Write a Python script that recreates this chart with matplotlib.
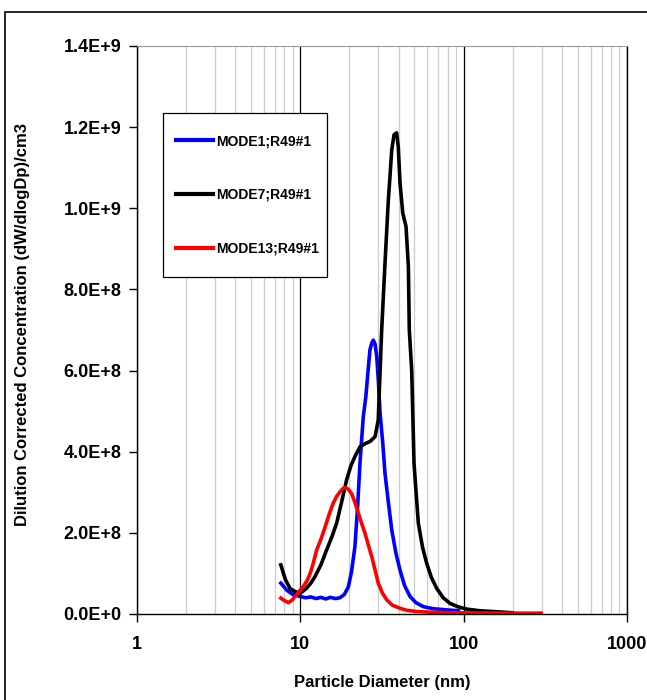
import matplotlib.pyplot as plt
from matplotlib.patches import Rectangle
from matplotlib.ticker import FixedLocator, LogLocator, NullFormatter

plt.rcParams['font.family'] = ['Liberation Sans Narrow', 'Liberation Sans', 'DejaVu Sans']
plt.rcParams['font.weight'] = 'bold'

# Particle diameter (nm) and concentration (x1e9)
mode1_d = [7.6, 8.3, 9.0, 10.0, 10.8, 11.6, 12.5, 13.4, 14.3, 15.3, 16.4, 17.5, 18.6,
           19.7, 20.6, 21.6, 22.4, 23.2, 24.3, 25.2, 26.0, 26.7, 27.4, 28.0, 28.7,
           29.4, 30.1, 30.8, 32.0, 33.0, 34.5, 36.3, 38.5, 40.8, 43.5, 47.0, 51.0,
           56.7, 65.0, 78.8, 93.0]
mode1_v = [0.076, 0.058, 0.048, 0.043, 0.040, 0.042, 0.038, 0.041, 0.037, 0.041, 0.038,
           0.040, 0.048, 0.067, 0.105, 0.166, 0.260, 0.372, 0.486, 0.536, 0.600, 0.651,
           0.668, 0.675, 0.665, 0.634, 0.570, 0.495, 0.420, 0.347, 0.280, 0.207, 0.150,
           0.108, 0.070, 0.043, 0.028, 0.018, 0.013, 0.010, 0.008]

mode7_d = [7.6, 8.1, 8.65, 9.3, 10.0, 10.9, 11.6, 12.3, 13.4, 14.5, 15.6, 16.7, 18.0,
           19.2, 20.4, 21.6, 23.2, 25.0, 26.7, 28.7, 30.0, 31.5, 33.0, 34.6, 35.4,
           36.3, 37.5, 38.9, 39.8, 40.8, 42.4, 44.4, 45.9, 46.5, 48.1, 49.7, 52.8,
           56.0, 59.4, 63.5, 68.4, 75.0, 82.6, 92.0, 104.5, 125.0, 152.0, 198.0]
mode7_v = [0.121, 0.085, 0.063, 0.055, 0.051, 0.063, 0.076, 0.092, 0.122, 0.158, 0.190,
           0.224, 0.280, 0.330, 0.365, 0.388, 0.412, 0.420, 0.425, 0.437, 0.478, 0.700,
           0.864, 1.020, 1.078, 1.144, 1.181, 1.186, 1.152, 1.062, 0.988, 0.955, 0.856,
           0.700, 0.600, 0.371, 0.224, 0.165, 0.125, 0.090, 0.063, 0.040, 0.026, 0.018,
           0.012, 0.008, 0.006, 0.003]

mode13_d = [7.6, 8.0, 8.45, 8.9, 9.28, 9.8, 10.4, 11.0, 11.5, 12.0, 12.6, 13.4, 14.2,
            15.0, 15.9, 16.7, 17.5, 18.2, 18.8, 19.6, 20.6, 21.6, 22.7, 23.8, 24.9,
            26.1, 27.4, 28.7, 30.0, 31.8, 33.8, 36.5, 40.8, 45.0, 51.6, 65.0, 90.0,
            150.0, 298.0]
mode13_v = [0.039, 0.033, 0.028, 0.034, 0.043, 0.055, 0.067, 0.082, 0.100, 0.125, 0.158,
            0.185, 0.215, 0.245, 0.273, 0.290, 0.301, 0.309, 0.312, 0.308, 0.297, 0.275,
            0.248, 0.222, 0.199, 0.170, 0.141, 0.108, 0.076, 0.052, 0.035, 0.022, 0.014,
            0.009, 0.006, 0.004, 0.003, 0.002, 0.002]

series = [
    ('MODE1;R49#1', mode1_d, mode1_v, '#0000ff'),
    ('MODE7;R49#1', mode7_d, mode7_v, '#000000'),
    ('MODE13;R49#1', mode13_d, mode13_v, '#ff0000'),
]

fig = plt.figure(figsize=(6.47, 7.0), dpi=100)
ax = fig.add_axes([0.2117, 0.1229, 0.7573, 0.8114])

for label, d, v, c in series:
    ax.plot(d, [x * 1e9 for x in v], color=c, lw=2.6, label=label)

ax.set_xscale('log')
ax.set_xlim(1, 1000)
ax.set_ylim(0, 1.4e9)

ax.xaxis.set_major_locator(FixedLocator([1, 10, 100, 1000]))
ax.set_xticklabels(['1', '10', '100', '1000'])
ax.xaxis.set_minor_locator(LogLocator(base=10, subs=range(2, 10)))
ax.xaxis.set_minor_formatter(NullFormatter())
ax.set_yticks([i * 2e8 for i in range(8)])
ax.set_yticklabels(['0.0E+0', '2.0E+8', '4.0E+8', '6.0E+8', '8.0E+8',
                    '1.0E+9', '1.2E+9', '1.4E+9'])

ax.grid(True, which='major', axis='x', color='#000000', lw=0.9)
ax.grid(True, which='minor', axis='x', color='#cccccc', lw=0.9)
ax.set_axisbelow(True)

ax.tick_params(axis='both', which='major', direction='out', length=6, width=1,
               labelsize=13, pad=5)
ax.tick_params(axis='x', which='minor', length=0)
ax.tick_params(axis='x', which='major', pad=10)
for lab in ax.get_xticklabels() + ax.get_yticklabels():
    lab.set_fontweight('bold')

ax.spines['top'].set_color('#999999')
for s in ['left', 'bottom', 'right']:
    ax.spines[s].set_color('black')
    ax.spines[s].set_linewidth(1)

ax.set_xlabel('Particle Diameter (nm)', fontsize=12, fontweight='bold', labelpad=16)
ax.set_ylabel('Dilution Corrected Concentration (dW/dlogDp)/cm3', fontsize=12,
              fontweight='bold')
ax.yaxis.set_label_coords(-0.218, 0.51)

# legend box drawn separately so its padding can match the original
ax.add_patch(Rectangle((0.0531, 0.593), 0.3347, 0.289, transform=ax.transAxes,
                       facecolor='white', edgecolor='black', lw=0.9, zorder=4))
leg = ax.legend(loc='upper left', bbox_to_anchor=(0.0796, 0.845), frameon=False,
                prop={'size': 10, 'weight': 'bold'}, handlelength=2.66,
                handletextpad=0.2, labelspacing=2.87, borderpad=0,
                borderaxespad=0)
leg.set_zorder(5)
for line in leg.get_lines():
    line.set_linewidth(3)

# outer chart frame
fig.patches.append(Rectangle((5 / 647, -0.1), 1.2, 1.1 - 12 / 700, fill=False,
                             edgecolor='black', lw=1.2, transform=fig.transFigure))

fig.savefig('out.png', dpi=100)
